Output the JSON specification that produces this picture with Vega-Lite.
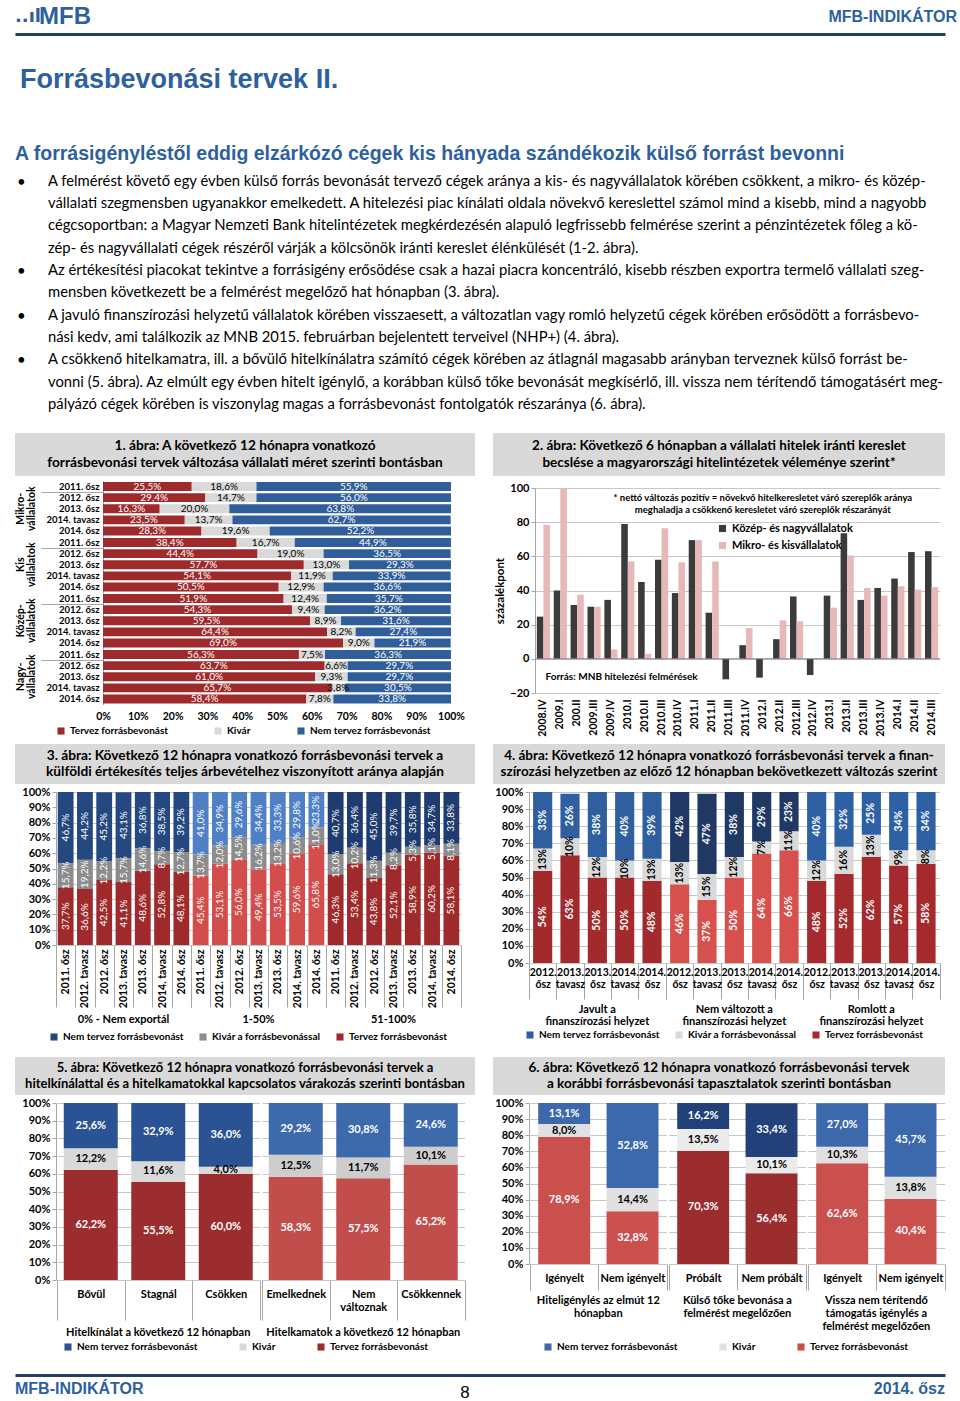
{
 "$schema": "https://vega.github.io/schema/vega-lite/v6.json",
 "background": "#ffffff",
 "padding": {"left": 15, "right": 15, "top": 3, "bottom": 0},
 "spacing": 0,
 "resolve": {"scale": {"color": "independent"}, "legend": {"color": "independent"}},
 "config": {
  "view": {"stroke": null},
  "font": "Lato",
  "locale": {"number": {"decimal": ",", "thousands": " ", "grouping": [3], "currency": ["", ""]}},
  "axis": {"labelFont": "Lato", "labelFontWeight": "bold", "labelFontSize": 10.5, "labelColor": "#000000", "labelOverlap": false, "labelBound": false, "titleFont": "Lato", "titleColor": "#000000", "domainColor": "#A6A6A6", "tickColor": "#A6A6A6", "gridColor": "#C8C8C8"},
  "header": {"labelFont": "Lato", "labelFontWeight": "bold", "labelFontSize": 11, "labelColor": "#000000"},
  "legend": {"labelFont": "Lato", "labelFontWeight": "bold", "labelFontSize": 10, "labelColor": "#000000", "symbolType": "square", "symbolSize": 50, "symbolStrokeWidth": 0, "orient": "none", "direction": "horizontal", "columnPadding": 22, "labelLimit": 300},
  "text": {"font": "Lato"}
 },
 "vconcat": [
  {
   "width": 930, "height": 28,
   "layer": [
    {"data": {"values": [{"t": "..ıl"}]}, "mark": {"type": "text", "align": "left", "font": "DejaVu Sans", "fontWeight": "bold", "fontSize": 18, "color": "#2E5F9F"},
     "encoding": {"x": {"datum": 0, "type": "quantitative", "scale": {"domain": [0, 1]}, "axis": {"orient": "bottom", "domain": true, "domainColor": "#243F60", "domainWidth": 3, "ticks": false, "labels": false, "grid": false, "title": null, "offset": 3}}, "text": {"field": "t"}}},
    {"data": {"values": [{"t": "MFB"}]}, "mark": {"type": "text", "align": "left", "font": "Liberation Sans", "fontWeight": "bold", "fontSize": 24, "color": "#2E5F9F", "dx": 24},
     "encoding": {"x": {"datum": 0, "type": "quantitative", "scale": {"domain": [0, 1]}, "axis": {"orient": "bottom", "domain": true, "domainColor": "#243F60", "domainWidth": 3, "ticks": false, "labels": false, "grid": false, "title": null, "offset": 3}}, "text": {"field": "t"}}},
    {"data": {"values": [{"t": "MFB-INDIKÁTOR"}]}, "mark": {"type": "text", "align": "right", "font": "Liberation Sans", "fontWeight": "bold", "fontSize": 16, "color": "#2E5F9F", "dx": 12},
     "encoding": {"x": {"datum": 1, "type": "quantitative", "scale": {"domain": [0, 1]}, "axis": {"orient": "bottom", "domain": true, "domainColor": "#243F60", "domainWidth": 3, "ticks": false, "labels": false, "grid": false, "title": null, "offset": 3}}, "text": {"field": "t"}}}
   ]
  },
  {
   "width": 930, "height": 82,
   "data": {"values": [{"t": "Forrásbevonási tervek II."}]},
   "mark": {"type": "text", "align": "left", "font": "Liberation Sans", "fontWeight": "bold", "fontSize": 27, "color": "#2E5F9F", "dx": 5, "dy": 5},
   "encoding": {"x": {"datum": 0, "type": "quantitative", "scale": {"domain": [0, 1]}, "axis": null}, "text": {"field": "t"}}
  },
  {
   "width": 930, "height": 40,
   "data": {"values": [{"t": "A forrásigényléstől eddig elzárkózó cégek kis hányada szándékozik külső forrást bevonni"}]},
   "mark": {"type": "text", "align": "left", "font": "Liberation Sans", "fontWeight": "bold", "fontSize": 19.5, "color": "#2E5F9F", "dy": 18},
   "encoding": {"x": {"datum": 0, "type": "quantitative", "scale": {"domain": [0, 1]}, "axis": null}, "text": {"field": "t"}}
  },
  {
   "width": 930, "height": 258.7,
   "data": {"values": [
    {"n": 1, "b": true, "t": "A felmérést követő egy évben külső forrás bevonását tervező cégek aránya a kis- és nagyvállalatok körében csökkent, a mikro- és közép-"},
    {"n": 2, "b": false, "t": "vállalati szegmensben ugyanakkor emelkedett. A hitelezési piac kínálati oldala növekvő kereslettel számol mind a kisebb, mind a nagyobb"},
    {"n": 3, "b": false, "t": "cégcsoportban: a Magyar Nemzeti Bank hitelintézetek megkérdezésén alapuló legfrissebb felmérése szerint a pénzintézetek főleg a kö-"},
    {"n": 4, "b": false, "t": "zép- és nagyvállalati cégek részéről várják a kölcsönök iránti kereslet élénkülését (1-2. ábra)."},
    {"n": 5, "b": true, "t": "Az értékesítési piacokat tekintve a forrásigény erősödése csak a hazai piacra koncentráló, kisebb részben exportra termelő vállalati szeg-"},
    {"n": 6, "b": false, "t": "mensben következett be a felmérést megelőző hat hónapban (3. ábra)."},
    {"n": 7, "b": true, "t": "A javuló finanszírozási helyzetű vállalatok körében visszaesett, a változatlan vagy romló helyzetű cégek körében erősödött a forrásbevo-"},
    {"n": 8, "b": false, "t": "nási kedv, ami találkozik az MNB 2015. februárban bejelentett terveivel (NHP+) (4. ábra)."},
    {"n": 9, "b": true, "t": "A csökkenő hitelkamatra, ill. a bővülő hitelkínálatra számító cégek körében az átlagnál magasabb arányban terveznek külső forrást be-"},
    {"n": 10, "b": false, "t": "vonni (5. ábra). Az elmúlt egy évben hitelt igénylő, a korábban külső tőke bevonását megkísérlő, ill. vissza nem térítendő támogatásért meg-"},
    {"n": 11, "b": false, "t": "pályázó cégek körében is viszonylag magas a forrásbevonást fontolgatók részaránya (6. ábra)."}
   ]},
   "layer": [
    {"transform": [{"filter": "datum.b"}], "mark": {"type": "text", "align": "left", "fontSize": 15, "dx": 2, "color": "#000000"},
     "encoding": {"x": {"datum": 0, "type": "quantitative", "scale": {"domain": [0, 1]}, "axis": null}, "y": {"field": "n", "type": "ordinal", "axis": null, "scale": {"padding": 0.8}}, "text": {"value": "•"}}},
    {"mark": {"type": "text", "align": "left", "fontSize": 14.8, "dx": 33, "color": "#000000"},
     "encoding": {"x": {"datum": 0, "type": "quantitative", "scale": {"domain": [0, 1]}, "axis": null}, "y": {"field": "n", "type": "ordinal", "axis": null, "scale": {"padding": 0.8}}, "text": {"field": "t"}}}
   ]
  },
  {"width": 930, "height": 10, "data": {"values": []}, "mark": "point"},
  {
   "resolve": {"scale": {"color": "independent"}, "legend": {"color": "independent"}},
   "hconcat": [
    {
     "resolve": {"scale": {"color": "independent"}, "legend": {"color": "independent"}},
     "concat": [
      {"width": 460, "height": 43, "view": {"fill": "#D9D9D9", "stroke": null},
       "data": {"values": [{"n": 1, "t": "1. ábra: A következő 12 hónapra vonatkozó"}, {"n": 2, "t": "forrásbevonási tervek változása vállalati méret szerinti bontásban"}]},
       "mark": {"type": "text", "fontSize": 13.7, "fontWeight": "bold", "color": "#000000"},
       "encoding": {"y": {"field": "n", "type": "ordinal", "axis": null, "scale": {"padding": 0.76}}, "text": {"field": "t"}}},
      {
       "spacing": 0,
       "hconcat": [
        {"width": 1, "height": 10, "data": {"values": []}, "mark": "point"},
        {
         "data": {"values": [
          {"g": "Mikro-|vállalatok", "p": "2011. ősz", "tervez": 0.255, "kivar": 0.186, "nem": 0.559},
          {"g": "Mikro-|vállalatok", "p": "2012. ősz", "tervez": 0.294, "kivar": 0.147, "nem": 0.560},
          {"g": "Mikro-|vállalatok", "p": "2013. ősz", "tervez": 0.163, "kivar": 0.200, "nem": 0.638},
          {"g": "Mikro-|vállalatok", "p": "2014. tavasz", "tervez": 0.235, "kivar": 0.137, "nem": 0.627},
          {"g": "Mikro-|vállalatok", "p": "2014. ősz", "tervez": 0.283, "kivar": 0.196, "nem": 0.522},
          {"g": "Kis|vállalatok", "p": "2011. ősz", "tervez": 0.384, "kivar": 0.167, "nem": 0.449},
          {"g": "Kis|vállalatok", "p": "2012. ősz", "tervez": 0.444, "kivar": 0.190, "nem": 0.365},
          {"g": "Kis|vállalatok", "p": "2013. ősz", "tervez": 0.577, "kivar": 0.130, "nem": 0.293},
          {"g": "Kis|vállalatok", "p": "2014. tavasz", "tervez": 0.541, "kivar": 0.119, "nem": 0.339},
          {"g": "Kis|vállalatok", "p": "2014. ősz", "tervez": 0.505, "kivar": 0.129, "nem": 0.366},
          {"g": "Közép-|vállalatok", "p": "2011. ősz", "tervez": 0.519, "kivar": 0.124, "nem": 0.357},
          {"g": "Közép-|vállalatok", "p": "2012. ősz", "tervez": 0.543, "kivar": 0.094, "nem": 0.362},
          {"g": "Közép-|vállalatok", "p": "2013. ősz", "tervez": 0.595, "kivar": 0.089, "nem": 0.316},
          {"g": "Közép-|vállalatok", "p": "2014. tavasz", "tervez": 0.644, "kivar": 0.082, "nem": 0.274},
          {"g": "Közép-|vállalatok", "p": "2014. ősz", "tervez": 0.690, "kivar": 0.090, "nem": 0.219},
          {"g": "Nagy-|vállalatok", "p": "2011. ősz", "tervez": 0.563, "kivar": 0.075, "nem": 0.363},
          {"g": "Nagy-|vállalatok", "p": "2012. ősz", "tervez": 0.637, "kivar": 0.066, "nem": 0.297},
          {"g": "Nagy-|vállalatok", "p": "2013. ősz", "tervez": 0.610, "kivar": 0.093, "nem": 0.297},
          {"g": "Nagy-|vállalatok", "p": "2014. tavasz", "tervez": 0.657, "kivar": 0.038, "nem": 0.305},
          {"g": "Nagy-|vállalatok", "p": "2014. ősz", "tervez": 0.584, "kivar": 0.078, "nem": 0.338}
         ]},
         "transform": [
          {"fold": ["tervez", "kivar", "nem"], "as": ["key", "v"]},
          {"calculate": "indexof(['tervez','kivar','nem'], datum.key)", "as": "o"},
          {"stack": "v", "groupby": ["g", "p"], "sort": [{"field": "o"}], "as": ["v0", "v1"]},
          {"calculate": "(datum.v0 + datum.v1) / 2", "as": "mid"}
         ],
         "facet": {"row": {"field": "g", "type": "nominal", "sort": ["Mikro-|vállalatok", "Kis|vállalatok", "Közép-|vállalatok", "Nagy-|vállalatok"], "title": null,
          "header": {"labelExpr": "split(datum.label, '|')", "labelFontSize": 10.5, "labelLineHeight": 11, "labelPadding": 3}}},
         "spacing": 0,
         "spec": {
          "width": 348, "height": 55.5,
          "layer": [
           {"mark": {"type": "bar", "height": {"band": 0.8}, "clip": true},
            "encoding": {
             "y": {"field": "p", "type": "nominal", "sort": ["2011. ősz", "2012. ősz", "2013. ősz", "2014. tavasz", "2014. ősz"], "title": null, "scale": {"paddingInner": 0, "paddingOuter": 0},
              "axis": {"tickBand": "extent", "ticks": true, "tickSize": 62, "tickOpacity": {"condition": {"test": "datum.value === '2011. ősz'", "value": 1}, "value": 0}, "labelPadding": -58, "labelFontSize": 9.5, "domain": true}},
             "x": {"field": "v0", "type": "quantitative", "scale": {"domain": [0, 1], "nice": false}, "title": null,
              "axis": {"format": "%", "values": [0, 0.1, 0.2, 0.3, 0.4, 0.5, 0.6, 0.7, 0.8, 0.9, 1], "tickCount": 50, "labelOverlap": false, "labelFlush": false, "grid": false, "domain": false, "ticks": false, "labelFontSize": 10.5, "labelPadding": 6}},
             "x2": {"field": "v1"},
             "color": {"field": "key", "type": "nominal", "title": null, "scale": {"domain": ["tervez", "kivar", "nem"], "range": ["#9E2A2B", "#D9D9D9", "#2F5E9A"]},
              "legend": {"orient": "none", "legendX": 41, "legendY": 245, "labelExpr": "datum.label == 'tervez' ? 'Tervez forrásbevonást' : datum.label == 'kivar' ? 'Kivár' : 'Nem tervez forrásbevonást'", "columnPadding": 45}}
            }},
           {"mark": {"type": "text", "fontSize": 10},
            "encoding": {
             "y": {"field": "p", "type": "nominal", "sort": ["2011. ősz", "2012. ősz", "2013. ősz", "2014. tavasz", "2014. ősz"], "title": null},
             "x": {"field": "mid", "type": "quantitative", "title": null},
             "text": {"field": "v", "format": ".1%"},
             "color": {"condition": {"test": "datum.key === 'kivar'", "value": "#000000"}, "value": "#ffffff"}
            }}
          ]
         }
        }
       ]
      }
     ],
     "columns": 1, "spacing": 0
    },
    {
     "resolve": {"scale": {"color": "independent"}, "legend": {"color": "independent"}},
     "concat": [
      {"width": 452, "height": 43, "view": {"fill": "#D9D9D9", "stroke": null},
       "data": {"values": [{"n": 1, "t": "2. ábra: Következő 6 hónapban a vállalati hitelek iránti kereslet"}, {"n": 2, "t": "becslése a magyarországi hitelintézetek véleménye szerint*"}]},
       "mark": {"type": "text", "fontSize": 13.5, "fontWeight": "bold", "color": "#000000"},
       "encoding": {"y": {"field": "n", "type": "ordinal", "axis": null, "scale": {"padding": 0.76}}, "text": {"field": "t"}}},
      {
       "spacing": 0,
       "hconcat": [
        {"width": 1, "height": 10, "data": {"values": []}, "mark": "point"},
        {
         "width": 405, "height": 205,
         "layer": [
          {"data": {"values": [
            {"q": "2008.IV", "kn": 24.7, "mk": 78.5},
            {"q": "2009.I", "kn": 40, "mk": 100},
            {"q": "200.II", "kn": 31.5, "mk": 37.5},
            {"q": "2009.III", "kn": 30.5, "mk": 30.5},
            {"q": "2009.IV", "kn": 34.5, "mk": 5.5},
            {"q": "2010.I", "kn": 79, "mk": 57},
            {"q": "2010.II", "kn": 45, "mk": 3},
            {"q": "2010.III", "kn": 58, "mk": 76.5},
            {"q": "2010.IV", "kn": 38.5, "mk": 56.5},
            {"q": "2011.I", "kn": 69.5, "mk": 69.5},
            {"q": "2011.II", "kn": 27, "mk": 57},
            {"q": "2011.III", "kn": -12, "mk": 0},
            {"q": "2011.IV", "kn": 8, "mk": 18},
            {"q": "2012.I", "kn": -11, "mk": 0},
            {"q": "2012.II", "kn": 11.5, "mk": 22.5},
            {"q": "2012.III", "kn": 36.5, "mk": 22},
            {"q": "2012.IV", "kn": -9.5, "mk": 0.5},
            {"q": "2013.I", "kn": 37, "mk": 30},
            {"q": "2013.II", "kn": 73.5, "mk": 60.5},
            {"q": "2013.III", "kn": 34.5, "mk": 41.5},
            {"q": "2013.IV", "kn": 41.5, "mk": 37},
            {"q": "2014.I", "kn": 47, "mk": 42.5},
            {"q": "2014.II", "kn": 62.5, "mk": 40.5},
            {"q": "2014.III", "kn": 63, "mk": 42}
           ]},
           "transform": [{"fold": ["kn", "mk"], "as": ["key", "v"]}],
           "mark": {"type": "bar"},
           "encoding": {
            "x": {"field": "q", "type": "nominal", "sort": null, "title": null, "scale": {"paddingInner": 0.22, "paddingOuter": 0.11},
             "axis": {"labelAngle": -90, "ticks": false, "domain": false, "labelPadding": 6, "labelFontSize": 10.5}},
            "xOffset": {"field": "key", "scale": {"domain": ["kn", "mk"]}},
            "y": {"field": "v", "type": "quantitative", "scale": {"domain": [-20, 100], "nice": false},
             "axis": {"values": [-20, 0, 20, 40, 60, 80, 100], "tickCount": 50, "labelOverlap": false, "grid": true, "title": "százalékpont", "titleFontWeight": "bold", "titleFontSize": 11.5, "labelFontSize": 11, "tickSize": 4, "titlePadding": 4}},
            "color": {"field": "key", "type": "nominal", "title": null, "scale": {"domain": ["kn", "mk"], "range": ["#3B3B3B", "#E6B9B8"]},
             "legend": {"orient": "none", "legendX": 224, "legendY": 35, "direction": "vertical", "rowPadding": 5, "labelFontSize": 11, "labelExpr": "datum.label == 'kn' ? 'Közép- és nagyvállalatok' : 'Mikro- és kisvállalatok'"}}
           }},
          {"data": {"values": [{}]}, "mark": {"type": "rule", "color": "#808080"}, "encoding": {"y": {"datum": 0, "type": "quantitative"}}},
          {"data": {"values": [{}]},
           "mark": {"type": "text", "fontSize": 9.5, "fontWeight": "bold", "align": "center", "baseline": "top", "lineHeight": 12, "color": "#000000",
            "text": ["* nettó változás pozitív = növekvő hitelkeresletet váró szereplők aránya", "meghaladja a csökkenő keresletet váró szereplők részarányát"]},
           "encoding": {"x": {"datum": "2012.I", "type": "nominal"}, "y": {"datum": 97, "type": "quantitative"}}},
          {"data": {"values": [{}]},
           "mark": {"type": "text", "fontSize": 10, "fontWeight": "bold", "align": "left", "baseline": "middle", "color": "#000000", "dx": 2, "text": "Forrás: MNB hitelezési felmérések"},
           "encoding": {"x": {"datum": "2008.IV", "type": "nominal"}, "y": {"datum": -10.5, "type": "quantitative"}}}
         ]
        }
       ]
      }
     ],
     "columns": 1, "spacing": 6
    }
   ],
   "spacing": 18
  },
  {"width": 930, "height": 7, "data": {"values": []}, "mark": "point"},
  {
   "resolve": {"scale": {"color": "independent"}, "legend": {"color": "independent"}},
   "hconcat": [
    {
     "resolve": {"scale": {"color": "independent"}, "legend": {"color": "independent"}},
     "concat": [
      {"width": 460, "height": 40, "view": {"fill": "#D9D9D9", "stroke": null},
       "data": {"values": [{"n": 1, "t": "3. ábra: Következő 12 hónapra vonatkozó forrásbevonási tervek a"}, {"n": 2, "t": "külföldi értékesítés teljes árbevételhez viszonyított aránya alapján"}]},
       "mark": {"type": "text", "fontSize": 13.7, "fontWeight": "bold", "color": "#000000"},
       "encoding": {"y": {"field": "n", "type": "ordinal", "axis": null, "scale": {"padding": 0.7}}, "text": {"field": "t"}}},
      {
       "spacing": 0,
       "hconcat": [
        {"width": 6, "height": 10, "data": {"values": []}, "mark": "point"},
        {
         "data": {"values": [
          {"g": "0% - Nem exportál", "p": "2011. ősz", "tervez": 0.377, "kivar": 0.157, "nem": 0.467},
          {"g": "0% - Nem exportál", "p": "2012. tavasz", "tervez": 0.366, "kivar": 0.192, "nem": 0.442},
          {"g": "0% - Nem exportál", "p": "2012. ősz", "tervez": 0.425, "kivar": 0.122, "nem": 0.452},
          {"g": "0% - Nem exportál", "p": "2013. tavasz", "tervez": 0.411, "kivar": 0.157, "nem": 0.431},
          {"g": "0% - Nem exportál", "p": "2013. ősz", "tervez": 0.486, "kivar": 0.146, "nem": 0.368},
          {"g": "0% - Nem exportál", "p": "2014. tavasz", "tervez": 0.528, "kivar": 0.087, "nem": 0.385},
          {"g": "0% - Nem exportál", "p": "2014. ősz", "tervez": 0.481, "kivar": 0.127, "nem": 0.392},
          {"g": "1-50%", "p": "2011. ősz", "tervez": 0.454, "kivar": 0.137, "nem": 0.410},
          {"g": "1-50%", "p": "2012. tavasz", "tervez": 0.531, "kivar": 0.120, "nem": 0.349},
          {"g": "1-50%", "p": "2012. ősz", "tervez": 0.560, "kivar": 0.145, "nem": 0.296},
          {"g": "1-50%", "p": "2013. tavasz", "tervez": 0.494, "kivar": 0.162, "nem": 0.344},
          {"g": "1-50%", "p": "2013. ősz", "tervez": 0.535, "kivar": 0.132, "nem": 0.333},
          {"g": "1-50%", "p": "2014. tavasz", "tervez": 0.596, "kivar": 0.106, "nem": 0.298},
          {"g": "1-50%", "p": "2014. ősz", "tervez": 0.658, "kivar": 0.110, "nem": 0.233},
          {"g": "51-100%", "p": "2011. ősz", "tervez": 0.463, "kivar": 0.130, "nem": 0.407},
          {"g": "51-100%", "p": "2012. tavasz", "tervez": 0.534, "kivar": 0.102, "nem": 0.364},
          {"g": "51-100%", "p": "2012. ősz", "tervez": 0.438, "kivar": 0.113, "nem": 0.450},
          {"g": "51-100%", "p": "2013. tavasz", "tervez": 0.521, "kivar": 0.082, "nem": 0.397},
          {"g": "51-100%", "p": "2013. ősz", "tervez": 0.589, "kivar": 0.053, "nem": 0.358},
          {"g": "51-100%", "p": "2014. tavasz", "tervez": 0.602, "kivar": 0.051, "nem": 0.347},
          {"g": "51-100%", "p": "2014. ősz", "tervez": 0.581, "kivar": 0.081, "nem": 0.338}
         ]},
         "transform": [
          {"fold": ["tervez", "kivar", "nem"], "as": ["key", "v"]},
          {"calculate": "indexof(['tervez','kivar','nem'], datum.key)", "as": "o"},
          {"stack": "v", "groupby": ["g", "p"], "sort": [{"field": "o"}], "as": ["v0", "v1"]},
          {"calculate": "(datum.v0 + datum.v1) / 2", "as": "mid"},
          {"calculate": "datum.g + '#' + datum.key", "as": "ck"}
         ],
         "facet": {"column": {"field": "g", "type": "nominal", "sort": ["0% - Nem exportál", "1-50%", "51-100%"], "title": null, "header": {"labelOrient": "bottom", "labelPadding": 6}}},
         "spacing": 0,
         "spec": {
          "width": 135, "height": 153,
          "layer": [
           {"mark": {"type": "bar", "width": {"band": 0.82}, "clip": true},
            "encoding": {
             "x": {"field": "p", "type": "nominal", "sort": ["2011. ősz", "2012. tavasz", "2012. ősz", "2013. tavasz", "2013. ősz", "2014. tavasz", "2014. ősz"], "title": null, "scale": {"paddingInner": 0, "paddingOuter": 0},
              "axis": {"labelAngle": -90, "tickBand": "extent", "tickSize": 62, "labelPadding": -58, "domain": false, "labelFontSize": 10.5}},
             "y": {"field": "v0", "type": "quantitative", "title": null, "scale": {"domain": [0, 1], "nice": false},
              "axis": {"format": "%", "values": [0, 0.1, 0.2, 0.3, 0.4, 0.5, 0.6, 0.7, 0.8, 0.9, 1], "tickCount": 50, "labelOverlap": false, "grid": true, "tickSize": 4, "labelFontSize": 11}},
             "y2": {"field": "v1"},
             "color": {"field": "ck", "type": "nominal", "title": null,
              "scale": {"domain": ["0% - Nem exportál#nem", "0% - Nem exportál#kivar", "0% - Nem exportál#tervez", "1-50%#nem", "1-50%#kivar", "1-50%#tervez", "51-100%#nem", "51-100%#kivar", "51-100%#tervez"],
               "range": ["#24487F", "#8C8C8C", "#9E2A2B", "#4F80C6", "#8C8C8C", "#D24D4B", "#1E3C70", "#8C8C8C", "#9E2A2B"]},
              "legend": {"orient": "none", "legendX": 34, "legendY": 240, "columnPadding": 14, "values": ["0% - Nem exportál#nem", "0% - Nem exportál#kivar", "0% - Nem exportál#tervez"],
               "labelExpr": "indexof(datum.label, '#nem') >= 0 ? 'Nem tervez forrásbevonást' : indexof(datum.label, '#kivar') >= 0 ? 'Kivár a forrásbevonással' : 'Tervez forrásbevonást'"}}
            }},
           {"mark": {"type": "text", "fontSize": 10, "angle": 270, "color": "#ffffff"},
            "encoding": {
             "x": {"field": "p", "type": "nominal", "sort": ["2011. ősz", "2012. tavasz", "2012. ősz", "2013. tavasz", "2013. ősz", "2014. tavasz", "2014. ősz"], "title": null},
             "y": {"field": "mid", "type": "quantitative", "title": null},
             "text": {"field": "v", "format": ".1%"}
            }}
          ]
         }
        }
       ]
      }
     ],
     "columns": 1, "spacing": 2
    },
    {
     "resolve": {"scale": {"color": "independent"}, "legend": {"color": "independent"}},
     "concat": [
      {"width": 452, "height": 40, "view": {"fill": "#D9D9D9", "stroke": null},
       "data": {"values": [{"n": 1, "t": "4. ábra: Következő 12 hónapra vonatkozó forrásbevonási tervek a finan-"}, {"n": 2, "t": "szírozási helyzetben az előző 12 hónapban bekövetkezett változás szerint"}]},
       "mark": {"type": "text", "fontSize": 13.5, "fontWeight": "bold", "color": "#000000"},
       "encoding": {"y": {"field": "n", "type": "ordinal", "axis": null, "scale": {"padding": 0.7}}, "text": {"field": "t"}}},
      {
       "spacing": 0,
       "hconcat": [
        {"width": 1, "height": 10, "data": {"values": []}, "mark": "point"},
        {
         "data": {"values": [
          {"g": "Javult a|finanszírozási helyzet", "p": "2012. ősz", "tervez": 0.54, "kivar": 0.13, "nem": 0.33},
          {"g": "Javult a|finanszírozási helyzet", "p": "2013. tavasz", "tervez": 0.63, "kivar": 0.10, "nem": 0.26},
          {"g": "Javult a|finanszírozási helyzet", "p": "2013. ősz", "tervez": 0.50, "kivar": 0.12, "nem": 0.38},
          {"g": "Javult a|finanszírozási helyzet", "p": "2014. tavasz", "tervez": 0.50, "kivar": 0.10, "nem": 0.40},
          {"g": "Javult a|finanszírozási helyzet", "p": "2014. ősz", "tervez": 0.48, "kivar": 0.13, "nem": 0.39},
          {"g": "Nem változott a|finanszírozási helyzet", "p": "2012. ősz", "tervez": 0.46, "kivar": 0.13, "nem": 0.42},
          {"g": "Nem változott a|finanszírozási helyzet", "p": "2013. tavasz", "tervez": 0.37, "kivar": 0.15, "nem": 0.47},
          {"g": "Nem változott a|finanszírozási helyzet", "p": "2013. ősz", "tervez": 0.50, "kivar": 0.12, "nem": 0.38},
          {"g": "Nem változott a|finanszírozási helyzet", "p": "2014. tavasz", "tervez": 0.64, "kivar": 0.07, "nem": 0.29},
          {"g": "Nem változott a|finanszírozási helyzet", "p": "2014. ősz", "tervez": 0.66, "kivar": 0.11, "nem": 0.23},
          {"g": "Romlott a|finanszírozási helyzet", "p": "2012. ősz", "tervez": 0.48, "kivar": 0.12, "nem": 0.40},
          {"g": "Romlott a|finanszírozási helyzet", "p": "2013. tavasz", "tervez": 0.52, "kivar": 0.16, "nem": 0.32},
          {"g": "Romlott a|finanszírozási helyzet", "p": "2013. ősz", "tervez": 0.62, "kivar": 0.13, "nem": 0.25},
          {"g": "Romlott a|finanszírozási helyzet", "p": "2014. tavasz", "tervez": 0.57, "kivar": 0.09, "nem": 0.34},
          {"g": "Romlott a|finanszírozási helyzet", "p": "2014. ősz", "tervez": 0.58, "kivar": 0.08, "nem": 0.34}
         ]},
         "transform": [
          {"fold": ["tervez", "kivar", "nem"], "as": ["key", "v"]},
          {"calculate": "indexof(['tervez','kivar','nem'], datum.key)", "as": "o"},
          {"stack": "v", "groupby": ["g", "p"], "sort": [{"field": "o"}], "as": ["v0", "v1"]},
          {"calculate": "(datum.v0 + datum.v1) / 2", "as": "mid"},
          {"calculate": "datum.g + '#' + datum.key", "as": "ck"}
         ],
         "facet": {"column": {"field": "g", "type": "nominal", "sort": ["Javult a|finanszírozási helyzet", "Nem változott a|finanszírozási helyzet", "Romlott a|finanszírozási helyzet"], "title": null,
          "header": {"labelOrient": "bottom", "labelPadding": 4, "labelExpr": "split(datum.label, '|')", "labelLineHeight": 12}}},
         "spacing": 0,
         "spec": {
          "width": 136.7, "height": 171,
          "layer": [
           {"mark": {"type": "bar", "width": {"band": 0.7}, "clip": true},
            "encoding": {
             "x": {"field": "p", "type": "nominal", "sort": ["2012. ősz", "2013. tavasz", "2013. ősz", "2014. tavasz", "2014. ősz"], "title": null, "scale": {"paddingInner": 0, "paddingOuter": 0},
              "axis": {"labelAngle": 0, "labelExpr": "split(datum.label, ' ')", "tickBand": "extent", "tickSize": 36, "labelPadding": -32, "labelLineHeight": 12, "domain": false, "labelFontSize": 10.5}},
             "y": {"field": "v0", "type": "quantitative", "title": null, "scale": {"domain": [0, 1], "nice": false},
              "axis": {"format": "%", "values": [0, 0.1, 0.2, 0.3, 0.4, 0.5, 0.6, 0.7, 0.8, 0.9, 1], "tickCount": 50, "labelOverlap": false, "grid": true, "tickSize": 4, "labelFontSize": 11}},
             "y2": {"field": "v1"},
             "color": {"field": "ck", "type": "nominal", "title": null,
              "scale": {"domain": ["Javult a|finanszírozási helyzet#nem", "Javult a|finanszírozási helyzet#kivar", "Javult a|finanszírozási helyzet#tervez", "Nem változott a|finanszírozási helyzet#nem", "Nem változott a|finanszírozási helyzet#kivar", "Nem változott a|finanszírozási helyzet#tervez", "Romlott a|finanszírozási helyzet#nem", "Romlott a|finanszírozási helyzet#kivar", "Romlott a|finanszírozási helyzet#tervez"],
               "range": ["#2F5F9E", "#D9D9D9", "#A2292C", "#1F3864", "#D9D9D9", "#D6504D", "#2E60A4", "#D9D9D9", "#A52A2D"]},
              "legend": {"orient": "none", "legendX": 32, "legendY": 238, "columnPadding": 14, "values": ["Javult a|finanszírozási helyzet#nem", "Javult a|finanszírozási helyzet#kivar", "Javult a|finanszírozási helyzet#tervez"],
               "labelExpr": "indexof(datum.label, '#nem') >= 0 ? 'Nem tervez forrásbevonást' : indexof(datum.label, '#kivar') >= 0 ? 'Kivár a forrásbevonással' : 'Tervez forrásbevonást'"}}
            }},
           {"mark": {"type": "text", "fontSize": 10.5, "fontWeight": "bold", "angle": 270},
            "encoding": {
             "x": {"field": "p", "type": "nominal", "sort": ["2012. ősz", "2013. tavasz", "2013. ősz", "2014. tavasz", "2014. ősz"], "title": null},
             "y": {"field": "mid", "type": "quantitative", "title": null},
             "text": {"field": "v", "format": ".0%"},
             "color": {"condition": {"test": "datum.key === 'kivar'", "value": "#000000"}, "value": "#ffffff"}
            }}
          ]
         }
        }
       ]
      }
     ],
     "columns": 1, "spacing": 2
    }
   ],
   "spacing": 18
  },
  {"width": 930, "height": 15, "data": {"values": []}, "mark": "point"},
  {
   "resolve": {"scale": {"color": "independent"}, "legend": {"color": "independent"}},
   "hconcat": [
    {
     "resolve": {"scale": {"color": "independent"}, "legend": {"color": "independent"}},
     "concat": [
      {"width": 460, "height": 38, "view": {"fill": "#D9D9D9", "stroke": null},
       "data": {"values": [{"n": 1, "t": "5. ábra: Következő 12 hónapra vonatkozó forrásbevonási tervek a"}, {"n": 2, "t": "hitelkínálattal és a hitelkamatokkal kapcsolatos várakozás szerinti bontásban"}]},
       "mark": {"type": "text", "fontSize": 13, "fontWeight": "bold", "color": "#000000"},
       "encoding": {"y": {"field": "n", "type": "ordinal", "axis": null, "scale": {"padding": 0.65}}, "text": {"field": "t"}}},
      {
       "spacing": 0,
       "hconcat": [
        {"width": 6, "height": 10, "data": {"values": []}, "mark": "point"},
        {
         "data": {"values": [
          {"g": "Hitelkínálat a következő 12 hónapban", "p": "Bővül", "tervez": 0.622, "kivar": 0.122, "nem": 0.256},
          {"g": "Hitelkínálat a következő 12 hónapban", "p": "Stagnál", "tervez": 0.555, "kivar": 0.116, "nem": 0.329},
          {"g": "Hitelkínálat a következő 12 hónapban", "p": "Csökken", "tervez": 0.600, "kivar": 0.040, "nem": 0.360},
          {"g": "Hitelkamatok a következő 12 hónapban", "p": "Emelkednek", "tervez": 0.583, "kivar": 0.125, "nem": 0.292},
          {"g": "Hitelkamatok a következő 12 hónapban", "p": "Nem változnak", "tervez": 0.575, "kivar": 0.117, "nem": 0.308},
          {"g": "Hitelkamatok a következő 12 hónapban", "p": "Csökkennek", "tervez": 0.652, "kivar": 0.101, "nem": 0.246}
         ]},
         "transform": [
          {"fold": ["tervez", "kivar", "nem"], "as": ["key", "v"]},
          {"calculate": "indexof(['tervez','kivar','nem'], datum.key)", "as": "o"},
          {"stack": "v", "groupby": ["g", "p"], "sort": [{"field": "o"}], "as": ["v0", "v1"]},
          {"calculate": "(datum.v0 + datum.v1) / 2", "as": "mid"},
          {"calculate": "datum.g + '#' + datum.key", "as": "ck"}
         ],
         "facet": {"column": {"field": "g", "type": "nominal", "sort": ["Hitelkínálat a következő 12 hónapban", "Hitelkamatok a következő 12 hónapban"], "title": null, "header": {"labelOrient": "bottom", "labelPadding": 6}}},
         "resolve": {"scale": {"x": "independent"}},
         "spacing": 0,
         "spec": {
          "width": 202.5, "height": 177,
          "layer": [
           {"mark": {"type": "bar", "width": {"band": 0.8}, "clip": true},
            "encoding": {
             "x": {"field": "p", "type": "nominal", "sort": null, "title": null, "scale": {"paddingInner": 0, "paddingOuter": 0},
              "axis": {"labelAngle": 0, "labelExpr": "datum.label == 'Nem változnak' ? ['Nem', 'változnak'] : datum.label", "tickBand": "extent", "tickSize": 40, "labelPadding": -32, "labelLineHeight": 13, "domain": false, "labelFontSize": 11}},
             "y": {"field": "v0", "type": "quantitative", "title": null, "scale": {"domain": [0, 1], "nice": false},
              "axis": {"format": "%", "values": [0, 0.1, 0.2, 0.3, 0.4, 0.5, 0.6, 0.7, 0.8, 0.9, 1], "tickCount": 50, "labelOverlap": false, "grid": true, "tickSize": 4, "labelFontSize": 11}},
             "y2": {"field": "v1"},
             "color": {"field": "ck", "type": "nominal", "title": null,
              "scale": {"domain": ["Hitelkínálat a következő 12 hónapban#nem", "Hitelkínálat a következő 12 hónapban#kivar", "Hitelkínálat a következő 12 hónapban#tervez", "Hitelkamatok a következő 12 hónapban#nem", "Hitelkamatok a következő 12 hónapban#kivar", "Hitelkamatok a következő 12 hónapban#tervez"],
               "range": ["#2B5394", "#D9D9D9", "#9B2D2F", "#3D6AAB", "#CDCDCD", "#C24E4C"]},
              "legend": {"orient": "none", "legendX": 48, "legendY": 239, "values": ["Hitelkínálat a következő 12 hónapban#nem", "Hitelkínálat a következő 12 hónapban#kivar", "Hitelkínálat a következő 12 hónapban#tervez"], "columnPadding": 40,
               "labelExpr": "indexof(datum.label, '#nem') >= 0 ? 'Nem tervez forrásbevonást' : indexof(datum.label, '#kivar') >= 0 ? 'Kivár' : 'Tervez forrásbevonást'"}}
            }},
           {"mark": {"type": "text", "fontSize": 11, "fontWeight": "bold"},
            "encoding": {
             "x": {"field": "p", "type": "nominal", "sort": null, "title": null},
             "y": {"field": "mid", "type": "quantitative", "title": null},
             "text": {"field": "v", "format": ".1%"},
             "color": {"condition": {"test": "datum.key === 'kivar'", "value": "#000000"}, "value": "#ffffff"}
            }}
          ]
         }
        }
       ]
      }
     ],
     "columns": 1, "spacing": 2
    },
    {
     "resolve": {"scale": {"color": "independent"}, "legend": {"color": "independent"}},
     "concat": [
      {"width": 452, "height": 38, "view": {"fill": "#D9D9D9", "stroke": null},
       "data": {"values": [{"n": 1, "t": "6. ábra: Következő 12 hónapra vonatkozó forrásbevonási tervek"}, {"n": 2, "t": "a korábbi forrásbevonási tapasztalatok szerinti bontásban"}]},
       "mark": {"type": "text", "fontSize": 13.5, "fontWeight": "bold", "color": "#000000"},
       "encoding": {"y": {"field": "n", "type": "ordinal", "axis": null, "scale": {"padding": 0.65}}, "text": {"field": "t"}}},
      {
       "spacing": 0,
       "hconcat": [
        {"width": 1, "height": 10, "data": {"values": []}, "mark": "point"},
        {
         "data": {"values": [
          {"g": "Hiteligénylés az elmút 12|hónapban", "p": "Igényelt", "tervez": 0.789, "kivar": 0.080, "nem": 0.131},
          {"g": "Hiteligénylés az elmút 12|hónapban", "p": "Nem igényelt", "tervez": 0.328, "kivar": 0.144, "nem": 0.528},
          {"g": "Külső tőke bevonása a|felmérést megelőzően", "p": "Próbált", "tervez": 0.703, "kivar": 0.135, "nem": 0.162},
          {"g": "Külső tőke bevonása a|felmérést megelőzően", "p": "Nem próbált", "tervez": 0.564, "kivar": 0.101, "nem": 0.334},
          {"g": "Vissza nem térítendő|támogatás igénylés a|felmérést megelőzően", "p": "Igényelt", "tervez": 0.626, "kivar": 0.103, "nem": 0.270},
          {"g": "Vissza nem térítendő|támogatás igénylés a|felmérést megelőzően", "p": "Nem igényelt", "tervez": 0.404, "kivar": 0.138, "nem": 0.457}
         ]},
         "transform": [
          {"fold": ["tervez", "kivar", "nem"], "as": ["key", "v"]},
          {"calculate": "indexof(['tervez','kivar','nem'], datum.key)", "as": "o"},
          {"stack": "v", "groupby": ["g", "p"], "sort": [{"field": "o"}], "as": ["v0", "v1"]},
          {"calculate": "(datum.v0 + datum.v1) / 2", "as": "mid"},
          {"calculate": "datum.g + '#' + datum.key", "as": "ck"}
         ],
         "facet": {"column": {"field": "g", "type": "nominal", "sort": ["Hiteligénylés az elmút 12|hónapban", "Külső tőke bevonása a|felmérést megelőzően", "Vissza nem térítendő|támogatás igénylés a|felmérést megelőzően"], "title": null,
          "header": {"labelOrient": "bottom", "labelPadding": 4, "labelExpr": "split(datum.label, '|')", "labelLineHeight": 13}}},
         "resolve": {"scale": {"x": "independent"}},
         "spacing": 0,
         "spec": {
          "width": 136.7, "height": 161,
          "layer": [
           {"mark": {"type": "bar", "width": {"band": 0.76}, "clip": true},
            "encoding": {
             "x": {"field": "p", "type": "nominal", "sort": null, "title": null, "scale": {"paddingInner": 0, "paddingOuter": 0},
              "axis": {"labelAngle": 0, "tickBand": "extent", "tickSize": 26, "labelPadding": -18, "domain": false, "labelFontSize": 11}},
             "y": {"field": "v0", "type": "quantitative", "title": null, "scale": {"domain": [0, 1], "nice": false},
              "axis": {"format": "%", "values": [0, 0.1, 0.2, 0.3, 0.4, 0.5, 0.6, 0.7, 0.8, 0.9, 1], "tickCount": 50, "labelOverlap": false, "grid": true, "tickSize": 4, "labelFontSize": 11}},
             "y2": {"field": "v1"},
             "color": {"field": "ck", "type": "nominal", "title": null,
              "scale": {"domain": ["Hiteligénylés az elmút 12|hónapban#nem", "Hiteligénylés az elmút 12|hónapban#kivar", "Hiteligénylés az elmút 12|hónapban#tervez", "Külső tőke bevonása a|felmérést megelőzően#nem", "Külső tőke bevonása a|felmérést megelőzően#kivar", "Külső tőke bevonása a|felmérést megelőzően#tervez", "Vissza nem térítendő|támogatás igénylés a|felmérést megelőzően#nem", "Vissza nem térítendő|támogatás igénylés a|felmérést megelőzően#kivar", "Vissza nem térítendő|támogatás igénylés a|felmérést megelőzően#tervez"],
               "range": ["#3C69AB", "#E0E0E0", "#C9504D", "#22407A", "#EBEBEB", "#9B2D2F", "#3C69AB", "#E0E0E0", "#C9504D"]},
              "legend": {"orient": "none", "legendX": 50, "legendY": 239, "values": ["Hiteligénylés az elmút 12|hónapban#nem", "Hiteligénylés az elmút 12|hónapban#kivar", "Hiteligénylés az elmút 12|hónapban#tervez"], "columnPadding": 40,
               "labelExpr": "indexof(datum.label, '#nem') >= 0 ? 'Nem tervez forrásbevonást' : indexof(datum.label, '#kivar') >= 0 ? 'Kivár' : 'Tervez forrásbevonást'"}}
            }},
           {"mark": {"type": "text", "fontSize": 11, "fontWeight": "bold"},
            "encoding": {
             "x": {"field": "p", "type": "nominal", "sort": null, "title": null},
             "y": {"field": "mid", "type": "quantitative", "title": null},
             "text": {"field": "v", "format": ".1%"},
             "color": {"condition": {"test": "datum.key === 'kivar'", "value": "#000000"}, "value": "#ffffff"}
            }}
          ]
         }
        }
       ]
      }
     ],
     "columns": 1, "spacing": 2
    }
   ],
   "spacing": 18
  },
  {"width": 930, "height": 23, "data": {"values": []}, "mark": "point"},
  {
   "width": 930, "height": 18,
   "layer": [
    {"data": {"values": [{"t": "MFB-INDIKÁTOR"}]}, "mark": {"type": "text", "align": "left", "font": "Liberation Sans", "fontWeight": "bold", "fontSize": 16, "color": "#2E5F9F", "dy": 3},
     "encoding": {"x": {"datum": 0, "type": "quantitative", "scale": {"domain": [0, 1]}, "axis": {"orient": "top", "domain": true, "domainColor": "#243F60", "domainWidth": 3, "ticks": false, "labels": false, "grid": false, "title": null, "offset": 2}}, "text": {"field": "t"}}},
    {"data": {"values": [{"t": "8"}]}, "mark": {"type": "text", "align": "center", "font": "Liberation Sans", "fontSize": 17, "color": "#000000", "dx": -15, "dy": 7},
     "encoding": {"x": {"datum": 0.5, "type": "quantitative", "scale": {"domain": [0, 1]}, "axis": {"orient": "top", "domain": true, "domainColor": "#243F60", "domainWidth": 3, "ticks": false, "labels": false, "grid": false, "title": null, "offset": 2}}, "text": {"field": "t"}}},
    {"data": {"values": [{"t": "2014. ősz"}]}, "mark": {"type": "text", "align": "right", "font": "Liberation Sans", "fontWeight": "bold", "fontSize": 16, "color": "#2E5F9F", "dy": 3},
     "encoding": {"x": {"datum": 1, "type": "quantitative", "scale": {"domain": [0, 1]}, "axis": {"orient": "top", "domain": true, "domainColor": "#243F60", "domainWidth": 3, "ticks": false, "labels": false, "grid": false, "title": null, "offset": 2}}, "text": {"field": "t"}}}
   ]
  }
 ]
}
